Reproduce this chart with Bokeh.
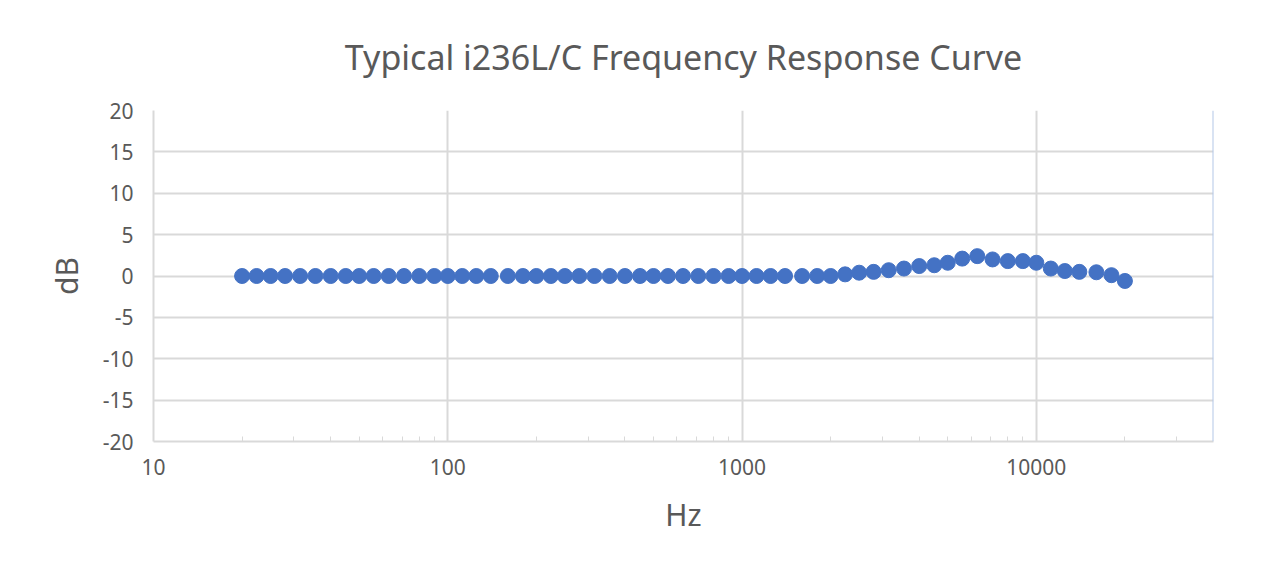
from bokeh.plotting import figure
from bokeh.embed import file_html
from bokeh.resources import INLINE
from bokeh.models import FixedTicker, NumeralTickFormatter, Range1d, Title, Span

# ---- data ----
freq_hz = [20, 22.4, 25, 28, 31.5, 35.5, 40, 45, 50, 56, 63, 71, 80, 90,
           100, 112, 125, 140, 160, 180, 200, 224, 250, 280, 315, 355, 400, 450, 500, 560,
           630, 710, 800, 900, 1000, 1120, 1250, 1400, 1600, 1800, 2000, 2240, 2500, 2800,
           3150, 3550, 4000, 4500, 5000, 5600, 6300, 7100, 8000, 9000, 10000, 11200,
           12500, 14000, 16000, 18000, 20000]
level_db = [0.0] * 40 + [0.0, 0.2, 0.4, 0.5, 0.7, 0.9, 1.2, 1.3, 1.6, 2.1, 2.4, 2.0, 1.8,
                         1.8, 1.6, 0.9, 0.6, 0.5, 0.45, 0.1, -0.6]
x_major_ticks = [10, 100, 1000, 10000]
x_minor_ticks = [20, 30, 40, 50, 60, 70, 80, 90, 200, 300, 400, 500, 600, 700, 800, 900,
                 2000, 3000, 4000, 5000, 6000, 7000, 8000, 9000, 20000, 30000]
y_ticks = [-20, -15, -10, -5, 0, 5, 10, 15, 20]
title_text = "Typical i236L/C Frequency Response Curve"
x_label = "Hz"
y_label = "dB"

TEXT = "#595959"
GRID = "#d9d9d9"
FONT = "Noto Sans"

p = figure(width=1267, height=563, x_axis_type="log", output_backend="svg",
           toolbar_location=None, x_range=Range1d(10, 40000), y_range=Range1d(-20, 20),
           min_border_left=153, min_border_right=54, min_border_top=110, min_border_bottom=122)
p.outline_line_color = None
p.background_fill_color = "white"
p.border_fill_color = "white"

t = Title(text=title_text, align="center", text_font=FONT, text_font_size="34px",
          text_color=TEXT, text_font_style="normal", standoff=62)
p.add_layout(t, "above")

p.scatter(freq_hz, level_db, size=15, color="#4472C4", line_color="#4472C4")

# x axis
xa = p.xaxis[0]
xa.ticker = FixedTicker(ticks=x_major_ticks, minor_ticks=x_minor_ticks)
xa.formatter = NumeralTickFormatter(format="0")
xa.axis_line_color = GRID
xa.axis_line_width = 2
xa.major_tick_line_color = None
xa.minor_tick_line_color = GRID
xa.minor_tick_in = 5
xa.minor_tick_out = 0
xa.major_label_text_font = FONT
xa.major_label_text_font_size = "21px"
xa.major_label_text_color = TEXT
xa.major_label_standoff = 11
xa.axis_label = x_label
xa.axis_label_text_font = FONT
xa.axis_label_text_font_size = "30px"
xa.axis_label_text_color = TEXT
xa.axis_label_text_font_style = "normal"
xa.axis_label_standoff = 16

# y axis
ya = p.yaxis[0]
ya.ticker = FixedTicker(ticks=y_ticks)
ya.formatter = NumeralTickFormatter(format="0")
ya.axis_line_color = GRID
ya.axis_line_width = 2
ya.major_tick_line_color = None
ya.minor_tick_line_color = None
ya.major_label_text_font = FONT
ya.major_label_text_font_size = "21px"
ya.major_label_text_color = TEXT
ya.major_label_standoff = 14
ya.axis_label = y_label
ya.axis_label_text_font = FONT
ya.axis_label_text_font_size = "30px"
ya.axis_label_text_color = TEXT
ya.axis_label_text_font_style = "normal"
ya.axis_label_standoff = 13

p.xgrid.ticker = FixedTicker(ticks=x_major_ticks)
p.xgrid.grid_line_color = GRID
p.xgrid.grid_line_width = 2
p.ygrid.ticker = FixedTicker(ticks=y_ticks)
p.ygrid.grid_line_color = GRID
p.ygrid.grid_line_width = 2

p.add_layout(Span(location=40000, dimension="height", line_color="#b4c7e7", line_width=2))

open("out.html", "w").write(file_html(p, INLINE))
